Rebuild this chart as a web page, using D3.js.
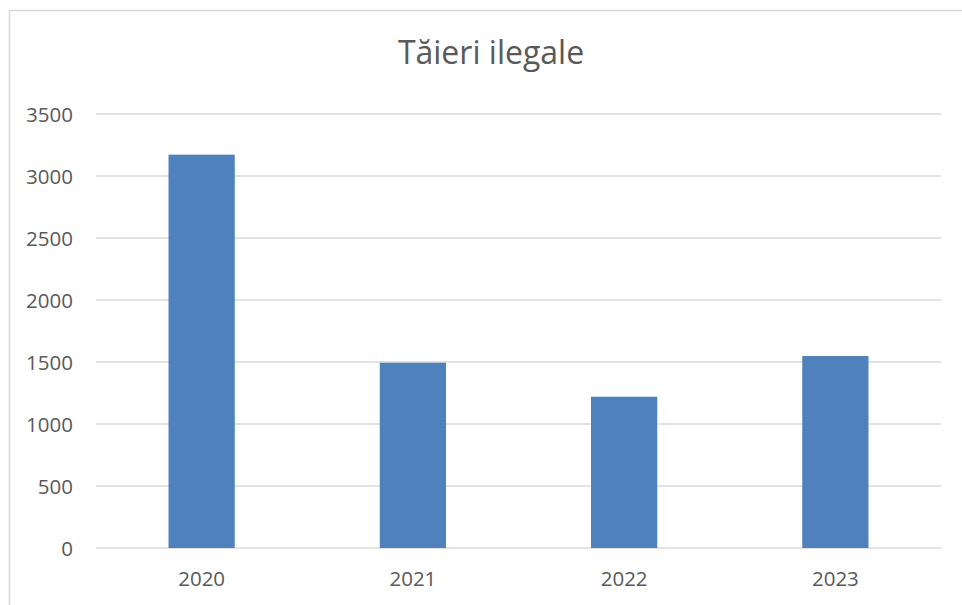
<!DOCTYPE html>
<html>
<head>
<meta charset="utf-8">
<script src="https://cdn.jsdelivr.net/npm/d3@7"></script>
<style>
  html, body { margin: 0; padding: 0; background: #fff; }
  svg { display: block; }
  text { font-family: "Open Sans", sans-serif; fill: #595959; }
</style>
</head>
<body>
<svg id="chart" width="962" height="605"></svg>
<script>
const title = "Tăieri ilegale";
const categories = ["2020", "2021", "2022", "2023"];
const values = [3172, 1494, 1220, 1548];
const yTicks = [0, 500, 1000, 1500, 2000, 2500, 3000, 3500];

const svg = d3.select("#chart");
const plot = { left: 96, right: 941, top: 114, bottom: 548 };

// chart area border (left and top visible)
svg.append("rect")
  .attr("x", 9.5).attr("y", 10.5)
  .attr("width", 1000).attr("height", 1000)
  .attr("fill", "none")
  .attr("stroke", "#d9d9d9")
  .attr("stroke-width", 1.5);

const x = d3.scaleBand()
  .domain(categories)
  .range([plot.left, plot.right])
  .paddingInner(0.6865)
  .paddingOuter(0.6865 / 2);

const y = d3.scaleLinear()
  .domain([0, 3500])
  .range([plot.bottom, plot.top]);

// gridlines
svg.append("g")
  .selectAll("line")
  .data(yTicks)
  .join("line")
  .attr("x1", plot.left).attr("x2", plot.right)
  .attr("y1", d => y(d)).attr("y2", d => y(d))
  .attr("stroke", "#d9d9d9")
  .attr("stroke-width", 1.5);

// y-axis labels
const yAxis = d3.axisLeft(y).tickValues(yTicks).tickSize(0).tickPadding(0).tickFormat(d3.format("d"));
const yg = svg.append("g").attr("transform", `translate(${plot.left - 23},0)`).call(yAxis);
yg.select(".domain").remove();
yg.selectAll("text")
  .attr("font-size", 20.5)
  .attr("font-family", "Open Sans, sans-serif")
  .attr("fill", "#595959")
  .attr("dy", "0.35em");

// bars
svg.append("g")
  .selectAll("rect")
  .data(categories.map((c, i) => ({ c, v: values[i] })))
  .join("rect")
  .attr("x", d => x(d.c))
  .attr("width", x.bandwidth())
  .attr("y", d => y(d.v))
  .attr("height", d => y(0) - y(d.v))
  .attr("fill", "#4f81bd");

// x-axis labels
const xAxis = d3.axisBottom(x).tickSize(0).tickPadding(0);
const xg = svg.append("g").attr("transform", `translate(0,${plot.bottom})`).call(xAxis);
xg.select(".domain").remove();
xg.selectAll("text")
  .attr("font-size", 20.5)
  .attr("font-family", "Open Sans, sans-serif")
  .attr("fill", "#595959")
  .attr("dy", null)
  .attr("y", 38);

// title
svg.append("text")
  .attr("x", 491)
  .attr("y", 64)
  .attr("text-anchor", "middle")
  .attr("font-size", 32)
  .text(title);
</script>
</body>
</html>
